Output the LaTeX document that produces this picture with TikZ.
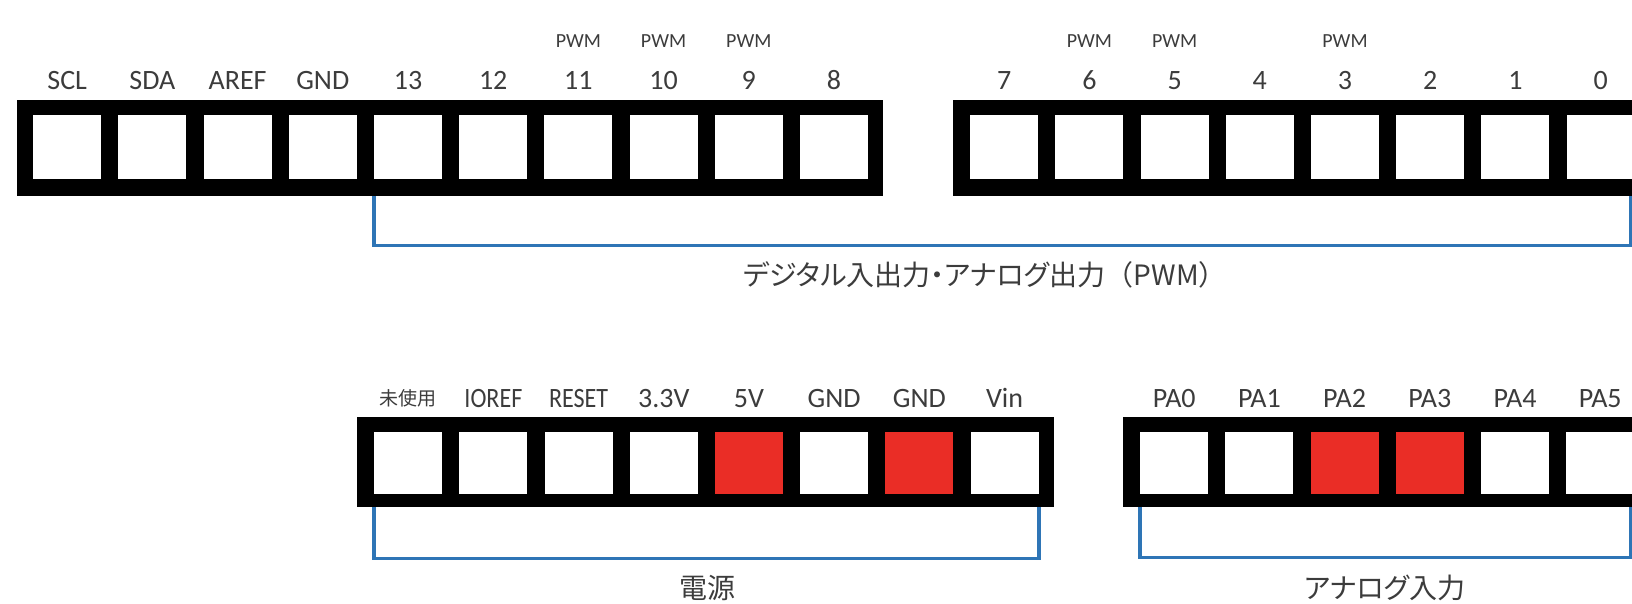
\documentclass[tikz,border=0pt]{standalone}
\usepackage{fontspec}
\usepackage{graphicx}
\setmainfont{Carlito}
\newfontfamily\jp{Noto Sans CJK JP}[RawFeature=+palt]
\newfontfamily\jpw{Noto Sans CJK JP}
\definecolor{pinred}{RGB}{234,45,38}
\definecolor{lineblue}{RGB}{46,117,182}
\definecolor{txt}{RGB}{60,60,60}
\begin{document}
\begin{tikzpicture}[x=1pt,y=-1pt,
  hdr/.style={fill=black, draw=none, inner sep=0pt, anchor=north west},
  pin/.style={fill=white, draw=none, inner sep=0pt, minimum width=68pt, minimum height=64pt, anchor=north west},
  lpin/.style={pin, minimum height=62pt},
  lbl/.style={text=txt, font=\fontsize{28}{30}\selectfont, anchor=base, inner sep=0pt},
  pwm/.style={text=txt, font=\fontsize{20}{22}\selectfont, anchor=base, inner sep=0pt},
  captext/.style={text=txt, font=\jp\fontsize{28}{30}\selectfont, anchor=center, inner sep=0pt},
  bracket/.style={draw=lineblue, line width=3.5pt}]
\useasboundingbox (0,0) rectangle (1632,604);
\fill[white] (0,0) rectangle (1632,604);
\clip (0,0) rectangle (1632,604);
% headers
\node[hdr, minimum width=866pt, minimum height=96pt] (hA) at (17,100) {};
\node[hdr, minimum width=720pt, minimum height=96pt] (hB) at (953,100) {};
\node[hdr, minimum width=697pt, minimum height=90pt] (hC) at (357,417) {};
\node[hdr, minimum width=560pt, minimum height=90pt] (hD) at (1123,417) {};
% pins
\foreach \i in {0,...,9} \node[pin] (a\i) at ({33+85.2*\i},115) {};
\foreach \i in {0,...,7} \node[pin] (b\i) at ({970+85.2*\i},115) {};
\foreach \i/\f in {0/white,1/white,2/white,3/white,4/pinred,5/white,6/pinred,7/white}
  \node[lpin, fill=\f] (c\i) at ({374+85.2*\i},432) {};
\foreach \i/\f in {0/white,1/white,2/pinred,3/pinred,4/white,5/white}
  \node[lpin, fill=\f] (d\i) at ({1140+85.2*\i},432) {};
% labels
\foreach \i/\t in {0/SCL,1/SDA,2/AREF,3/GND,4/13,5/12,6/11,7/10,8/9,9/8}
  \node[lbl] (la\i) at (a\i.center |- 0,90) {\t};
\foreach \i/\t in {0/7,1/6,2/5,3/4,4/3,5/2,6/1,7/0}
  \node[lbl] (lb\i) at (b\i.center |- 0,90) {\t};
\foreach \i in {6,7,8} \node[pwm] (pa\i) at (a\i.center |- 0,48) {PWM};
\foreach \i in {1,2,4} \node[pwm] (pb\i) at (b\i.center |- 0,48) {PWM};
\node[lbl] (lc0) at (c0.center |- 0,405) {\jp\fontsize{19}{20}\selectfont 未使用};
\node[lbl] (lc1) at (c1.center |- 0,407) {\scalebox{0.86}[1]{IOREF}};
\node[lbl] (lc2) at (c2.center |- 0,407) {\scalebox{0.86}[1]{RESET}};
\foreach \i/\t in {3/3.3V,4/5V,5/GND,6/GND,7/Vin}
  \node[lbl] (lc\i) at (c\i.center |- 0,407) {\t};
\foreach \i in {0,...,5}
  \node[lbl] (ld\i) at (d\i.center |- 0,407) {PA\i};
% brackets
\coordinate (tr) at (1631,196);
\coordinate (br) at (1631,507);
\draw[bracket] (a4.west |- hA.south) -- ++(0,49) -| (tr);
\draw[bracket] (c0.west |- hC.south) -- ++(0,51) -| (c7.east |- hC.south);
\draw[bracket] (d0.west |- hD.south) -- ++(0,50) -| (br);
% captions
\node[captext] (capA) at (985,275) {デジタル入出力・アナログ出力{\jpw （}PWM{\jpw ）}};
\node[captext] (capB) at (707,588) {電源};
\node[captext] (capC) at (1385,588) {アナログ入力};
\end{tikzpicture}
\end{document}
